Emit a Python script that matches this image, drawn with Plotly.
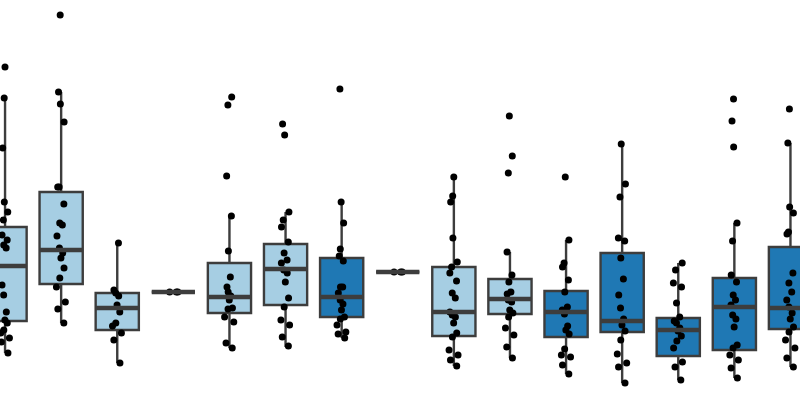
import plotly.graph_objects as go

# group order, left to right
groups = ["g01", "g02", "g03", "g04", "g05", "g06", "g07", "g08",
          "g09", "g10", "g11", "g12", "g13", "g14", "g15"]
shade = ["light", "light", "light", "light", "light", "light", "dark", "light",
         "light", "light", "dark", "dark", "dark", "dark", "dark"]

# box statistics
q1 = [7.9, 11.6, 7.0, 10.8, 8.7, 9.5, 8.3, 12.8, 6.4, 8.6, 6.3, 6.8, 4.4, 5.0, 7.1]
median = [13.4, 15.0, 9.2, 10.8, 10.3, 13.1, 10.3, 12.8, 8.8, 10.1, 8.8, 7.9, 7.0, 9.3, 9.2]
q3 = [17.3, 20.8, 10.7, 10.8, 13.7, 15.6, 14.2, 12.8, 13.3, 12.1, 10.9, 14.7, 8.2, 12.2, 15.3]
lowerfence = [4.7, 7.7, 3.7, 10.8, 5.2, 5.3, 6.2, 12.8, 3.4, 4.2, 2.6, 1.7, 2.0, 2.2, 3.3]
upperfence = [30.2, 30.8, 15.7, 10.8, 18.4, 18.8, 19.8, 12.8, 22.3, 14.8, 16.0, 25.6, 13.7, 17.7, 25.7]

# observations per group
points = [
    [33.3, 30.2, 25.2, 19.8, 18.8, 18.0, 16.5, 16.0, 15.5, 15.2, 11.5, 10.5,
     8.8, 8.0, 7.7, 7.0, 6.7, 6.2, 5.8, 4.7],
    [38.5, 30.8, 29.6, 27.8, 21.3, 21.3, 19.6, 17.5, 17.7, 16.4, 15.2, 14.7,
     14.2, 13.2, 12.2, 11.3, 9.8, 9.1, 7.7],
    [15.7, 11.0, 10.7, 10.4, 9.5, 8.8, 7.7, 7.4, 6.7, 6.0, 3.7],
    [10.8, 10.8, 10.8],
    [30.3, 29.5, 22.4, 18.4, 14.9, 12.3, 11.3, 10.8, 10.4, 10.0, 9.1, 9.2,
     8.3, 7.8, 5.7, 5.2],
    [27.6, 26.5, 18.8, 18.0, 17.3, 15.8, 14.7, 14.0, 13.7, 13.0, 12.7, 11.8,
     10.2, 9.3, 8.0, 7.5, 6.3, 5.4],
    [31.1, 19.8, 17.7, 15.1, 14.4, 13.9, 11.3, 11.3, 10.7, 10.0, 9.6, 9.0,
     8.3, 8.1, 7.5, 6.8, 6.6, 6.2],
    [12.8, 12.8, 12.8],
    [22.3, 20.4, 19.8, 16.2, 13.8, 13.3, 12.7, 11.9, 10.7, 10.2, 8.8, 8.5,
     8.3, 7.7, 6.7, 6.3, 5.0, 4.5, 4.0, 3.4],
    [28.4, 24.4, 22.7, 14.8, 12.5, 11.8, 10.8, 10.6, 10.0, 9.8, 9.0, 8.7,
     8.3, 7.2, 6.5, 5.3, 4.2],
    [22.3, 16.0, 13.7, 13.3, 12.0, 10.8, 9.3, 9.0, 8.6, 7.4, 7.0, 6.6,
     5.1, 4.5, 4.3, 3.5, 2.6],
    [25.6, 21.6, 20.3, 16.2, 15.9, 14.2, 12.1, 10.5, 9.2, 8.1, 7.5, 6.9,
     6.0, 4.6, 3.7, 3.3, 1.7],
    [13.7, 13.0, 11.7, 11.3, 9.7, 8.3, 7.9, 7.7, 7.2, 6.9, 6.4, 5.9,
     5.2, 3.8, 3.3, 2.0],
    [30.1, 27.9, 25.3, 17.7, 15.9, 12.5, 11.8, 10.5, 10.0, 9.5, 8.5, 8.1,
     7.3, 5.5, 5.2, 4.5, 4.0, 3.2, 2.2],
    [29.1, 25.7, 19.3, 18.7, 16.8, 16.6, 12.7, 11.7, 10.8, 10.0, 9.3, 8.7,
     8.1, 7.3, 6.8, 6.0, 5.2, 4.2, 3.3],
]

colors = {"light": "#a6cee3", "dark": "#1f78b4"}
edge = "#3d3d3d"
box_w = 0.77

fig = go.Figure()

for i, name in enumerate(groups):
    fig.add_trace(go.Box(
        x=[i], q1=[q1[i]], median=[median[i]], q3=[q3[i]],
        lowerfence=[lowerfence[i]], upperfence=[upperfence[i]],
        width=box_w, whiskerwidth=0,
        fillcolor=colors[shade[i]],
        line=dict(color=edge, width=2.4),
        boxpoints=False, hoverinfo="skip", showlegend=False, name=name,
    ))

# thicker median bars like seaborn
mx, my = [], []
for i in range(len(groups)):
    mx += [i - box_w / 2, i + box_w / 2, None]
    my += [median[i], median[i], None]
fig.add_trace(go.Scatter(x=mx, y=my, mode="lines",
                         line=dict(color=edge, width=4.5),
                         hoverinfo="skip", showlegend=False))

# strip points, jittered by plotly
for i, name in enumerate(groups):
    fig.add_trace(go.Box(
        x=[i] * len(points[i]), y=points[i], width=box_w,
        boxpoints="all", jitter=0.27, pointpos=0,
        fillcolor="rgba(0,0,0,0)", line=dict(color="rgba(0,0,0,0)", width=0),
        marker=dict(color="black", size=7),
        showlegend=False, name=name,
    ))

fig.update_layout(
    width=800, height=420,
    margin=dict(l=0, r=0, t=0, b=0),
    paper_bgcolor="white", plot_bgcolor="white",
    boxmode="overlay",
    xaxis=dict(range=[-0.09, 14.17], visible=False),
    yaxis=dict(range=[-2, 40], visible=False),
)

# drop the default page margin so the figure sits at the window corner
fig.write_html("out.html", config={"displayModeBar": False},
               post_script="document.body.style.margin='0';")
